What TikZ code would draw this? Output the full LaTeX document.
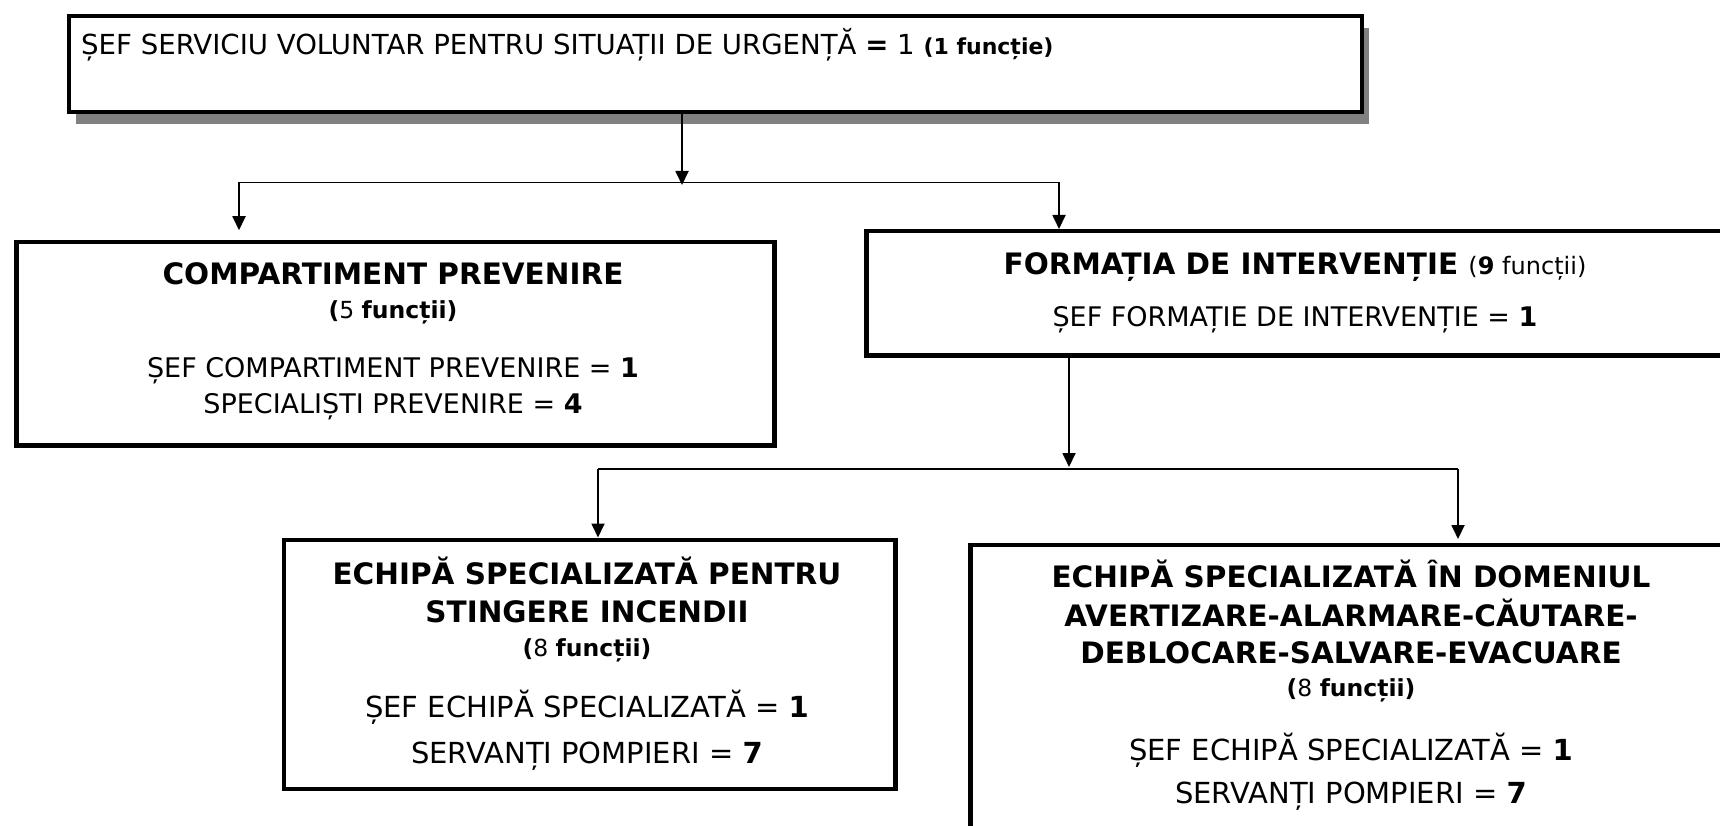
\documentclass[tikz,border=0pt]{standalone}
\usepackage{fontspec}
\setmainfont{DejaVu Sans}
\usetikzlibrary{arrows.meta,shadows}
\newcommand\fReg{\fontsize{27}{32}\selectfont}
\newcommand\fTop{\fontsize{27.6}{32}\selectfont}
\newcommand\fRegB{\fontsize{29}{34}\selectfont}
\newcommand\fTitle{\fontsize{29.5}{35}\selectfont\bfseries}
\newcommand\fSm{\fontsize{23.5}{28}\selectfont}
\begin{document}
\begin{tikzpicture}[x=1pt,y=-1pt,
  box/.style={draw=black, line width=4.5pt, fill=white, inner sep=0pt, anchor=north west},
  tbox/.style={box, line width=4pt, drop shadow={shadow xshift=7pt, shadow yshift=-12pt, fill=black!50, opacity=1}},
  txt/.style={inner sep=0pt, anchor=base},
  vline/.style={draw=black, line width=1.8pt},
  hline/.style={draw=black, line width=1.4pt},
  arr/.style={-{Triangle[length=14pt,width=13pt]}}]
\path[use as bounding box] (0,0) rectangle (1720,826);
\clip (0,0) rectangle (1720,826);

% boxes
\node[tbox, minimum width=1293pt, minimum height=96pt] (top) at (67,14) {};
\node[box, minimum width=758pt, minimum height=203pt] (cp) at (14,240) {};
\node[box, minimum width=862pt, minimum height=124pt] (fi) at (864,229) {};
\node[box, minimum width=611.5pt, minimum height=249pt] (el) at (281.5,537.5) {};
\node[box, minimum width=766pt, minimum height=285.5pt] (er) at (968,542.5) {};

% texts
\node[txt, anchor=base west] (topt) at (81,55) {\fTop ȘEF SERVICIU VOLUNTAR PENTRU SITUAȚII DE URGENȚĂ \textbf{=} 1 {\fontsize{22}{26}\selectfont\bfseries (1 funcție)}};

\node[txt] (cp1) at (393,284.5) {\fTitle COMPARTIMENT PREVENIRE};
\node[txt] (cp2) at (393,318) {\fSm\bfseries (\mdseries 5 \bfseries funcții)};
\node[txt] (cp3) at (393,377.5) {\fReg ȘEF COMPARTIMENT PREVENIRE = \textbf{1}};
\node[txt] (cp4) at (393,413.5) {\fReg SPECIALIȘTI PREVENIRE = \textbf{4}};

\node[txt] (fi1) at (1295,274) {{\fTitle FORMAȚIA DE INTERVENȚIE }{\fontsize{24}{28}\selectfont (\textbf{9} funcții)}};
\node[txt] (fi2) at (1295,326.5) {\fReg ȘEF FORMAȚIE DE INTERVENȚIE = \textbf{1}};

\node[txt] (el1) at (587,584) {\fTitle ECHIPĂ SPECIALIZATĂ PENTRU};
\node[txt] (el2) at (587,622.5) {\fTitle STINGERE INCENDII};
\node[txt] (el3) at (587,656.5) {\fSm\bfseries (\mdseries 8 \bfseries funcții)};
\node[txt] (el4) at (587,717.5) {\fRegB ȘEF ECHIPĂ SPECIALIZATĂ = \textbf{1}};
\node[txt] (el5) at (587,763.5) {\fRegB SERVANȚI POMPIERI = \textbf{7}};

\node[txt] (er1) at (1351,587.5) {\fTitle ECHIPĂ SPECIALIZATĂ ÎN DOMENIUL};
\node[txt] (er2) at (1351,626) {\fTitle AVERTIZARE-ALARMARE-CĂUTARE-};
\node[txt] (er3) at (1351,663.5) {\fTitle DEBLOCARE-SALVARE-EVACUARE};
\node[txt] (er4) at (1351,696.5) {\fSm\bfseries (\mdseries 8 \bfseries funcții)};
\node[txt] (er5) at (1351,760.5) {\fRegB ȘEF ECHIPĂ SPECIALIZATĂ = \textbf{1}};
\node[txt] (er6) at (1351,803.5) {\fRegB SERVANȚI POMPIERI = \textbf{7}};

% connectors
\coordinate (j1) at (682,185);
\coordinate (h1L) at (239,182.5);
\coordinate (h1R) at (1059,182.5);
\coordinate (j2) at (1069,467);
\coordinate (h2L) at (598,469);
\coordinate (h2R) at (1458,469);

\draw[vline,arr] (top.south -| j1) -- (j1);
\draw[hline] (h1L) -- (h1R);
\draw[vline,arr,shorten >=9.75pt] (h1L) -- (h1L |- cp.north);
\draw[vline,arr] (h1R) -- (h1R |- fi.north);

\draw[vline,arr] (fi.south -| j2) -- (j2);
\draw[hline] (h2L) -- (h2R);
\draw[vline,arr] (h2L) -- (h2L |- el.north);
\draw[vline,arr,shorten >=3.5pt] (h2R) -- (h2R |- er.north);
\end{tikzpicture}
\end{document}
